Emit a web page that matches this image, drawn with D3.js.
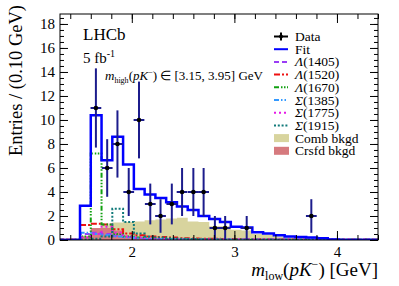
<!DOCTYPE html>
<html>
<head>
<meta charset="utf-8">
<script src="https://cdn.jsdelivr.net/npm/d3@7"></script>
<style>
  body { margin: 0; background: #fff; }
  text { font-family: "Liberation Serif", "Times New Roman", serif; }
</style>
</head>
<body>
<div id="chart"></div>
<script>
// Binning of the histograms (GeV)
const binStart = 1.285,
  binWidth = 0.105;

// Fit and its components, one value per bin
const fitVals = [0, 0, 2.85, 10.4, 6.65, 8.6, 6.3, 4.25, 3.8, 3.5, 3.15, 2.8, 2.5, 2.0, 1.75, 1.5, 1.1, 1.05, 0.65, 0.55, 0.4, 0.3, 0.25, 0.2, 0.15, 0.05, 0, 0, 0, 0];
const combVals = [0, 0, 0.35, 0.9, 1.2, 1.45, 1.5, 1.55, 1.65, 1.7, 1.8, 1.85, 1.55, 1.5, 1.15, 1.15, 0.85, 0.8, 0.5, 0.45, 0.3, 0.2, 0.15, 0.1, 0.05, 0.03, 0.02, 0.01, 0, 0];
const crsfdVals = [0, 0, 0.3, 1.0, 1.0, 0.8, 0.35, 0.2, 0.15, 0.1, 0.1, 0.08, 0.06, 0.05, 0.04, 0.04, 0.03, 0.03, 0.02, 0.02, 0.02, 0.01, 0.01, 0.01, 0.01, 0.01, 0.01, 0.01, 0.01, 0.01];
const l1405Vals = [0.03, 0.03, 0.5, 0.6, 0.5, 0.35, 0.25, 0.15, 0.1, 0.08, 0.06, 0.05, 0.05, 0.04, 0.04, 0.03, 0.03, 0.03, 0.03, 0.03, 0.03, 0.03, 0.03, 0.03, 0.03, 0.03, 0.03, 0.03, 0.03, 0.03];
const l1520Vals = [0.05, 0.05, 1.25, 1.35, 1.3, 0.9, 0.55, 0.4, 0.3, 0.25, 0.2, 0.15, 0.12, 0.1, 0.1, 0.08, 0.08, 0.07, 0.06, 0.06, 0.05, 0.05, 0.05, 0.05, 0.05, 0.05, 0.05, 0.05, 0.05, 0.05];
const l1670Vals = [0.02, 0.02, 0.3, 7.2, 1.3, 0.5, 0.3, 0.2, 0.15, 0.1, 0.08, 0.06, 0.05, 0.04, 0.04, 0.03, 0.03, 0.03, 0.03, 0.03, 0.03, 0.03, 0.03, 0.03, 0.03, 0.03, 0.03, 0.03, 0.03, 0.03];
const s1385Vals = [0.03, 0.03, 0.6, 0.5, 0.4, 0.3, 0.2, 0.15, 0.1, 0.08, 0.06, 0.05, 0.05, 0.04, 0.04, 0.04, 0.04, 0.04, 0.04, 0.04, 0.04, 0.04, 0.04, 0.04, 0.04, 0.04, 0.04, 0.04, 0.04, 0.04];
const s1775Vals = [0.02, 0.02, 0.2, 0.5, 1.1, 0.6, 0.3, 0.2, 0.1, 0.08, 0.06, 0.05, 0.05, 0.05, 0.05, 0.05, 0.05, 0.05, 0.05, 0.05, 0.05, 0.05, 0.05, 0.05, 0.05, 0.05, 0.05, 0.05, 0.05, 0.05];
const s1915Vals = [0.01, 0.01, 0.05, 0.1, 0.3, 2.6, 1.5, 0.55, 0.3, 0.2, 0.15, 0.1, 0.08, 0.06, 0.05, 0.04, 0.03, 0.03, 0.03, 0.02, 0.02, 0.02, 0.02, 0.02, 0.02, 0.02, 0.02, 0.02, 0.02, 0.02];

// Data points
const dataMass = [1.65, 1.76, 1.86, 1.97, 2.07, 2.18, 2.28, 2.39, 2.49, 2.60, 2.70, 2.81, 2.91, 3.12, 3.75];
const dataCounts = [11, 6, 8, 4, 10, 3, 2, 3, 4, 4, 4, 1, 1, 1, 2];
const dataErr = [3.3, 2.4, 2.8, 2.0, 3.2, 1.7, 1.4, 1.7, 2.0, 2.0, 2.0, 1.0, 1.0, 1.0, 1.4];

// Axis ticks
const xTicks = [2, 3, 4];
const yTicks = [0, 2, 4, 6, 8, 10, 12, 14, 16, 18];

const W = 399, H = 286;
const margin = { top: 14, right: 21, bottom: 46, left: 60 },
  width = W - margin.left - margin.right,
  height = H - margin.top - margin.bottom;

const x = d3.scaleLinear().domain([1.3, 4.4]).range([0, width]);
const y = d3.scaleLinear().domain([0, 18.83]).range([height, 0]);

const svg = d3
  .select("#chart")
  .append("svg")
  .attr("width", W)
  .attr("height", H);

const g = svg
  .append("g")
  .attr("transform", `translate(${margin.left},${margin.top})`);

g.append("clipPath")
  .attr("id", "plotclip")
  .append("rect")
  .attr("width", width)
  .attr("height", height);

const plot = g.append("g").attr("clip-path", "url(#plotclip)");

function histPoints(vals) {
  const pts = [];
  vals.forEach((v, i) => {
    const lo = binStart + i * binWidth;
    pts.push([lo, v], [lo + binWidth, v]);
  });
  return pts;
}

const line = d3.line().x((d) => x(d[0])).y((d) => y(d[1]));
const area = d3
  .area()
  .x((d) => x(d[0]))
  .y0(y(0))
  .y1((d) => y(d[1]));

// filled backgrounds
plot.append("path").attr("d", area(histPoints(combVals))).attr("fill", "#d8d49e");
plot.append("path").attr("d", area(histPoints(crsfdVals))).attr("fill", "#d67a7e");

const components = [
  { name: "Λ", mass: "(1405)", vals: l1405Vals, color: "#9a3cf5", dash: "5,3" },
  { name: "Λ", mass: "(1520)", vals: l1520Vals, color: "#ee1111", dash: "6,2,2,2" },
  { name: "Λ", mass: "(1670)", vals: l1670Vals, color: "#10a010", dash: "5,2,1.5,1.5,1.5,1.5,1.5,2" },
  { name: "Σ", mass: "(1385)", vals: s1385Vals, color: "#3399ff", dash: "5,2,1.5,2,1.5,2" },
  { name: "Σ", mass: "(1775)", vals: s1775Vals, color: "#e619e6", dash: "2,3" },
  { name: "Σ", mass: "(1915)", vals: s1915Vals, color: "#117a7a", dash: "2,1.8" },
];

components.forEach((c) => {
  plot
    .append("path")
    .attr("d", line(histPoints(c.vals)))
    .attr("fill", "none")
    .attr("stroke", c.color)
    .attr("stroke-width", 2)
    .attr("stroke-dasharray", c.dash);
});

// total fit
plot
  .append("path")
  .attr("d", line(histPoints(fitVals)))
  .attr("fill", "none")
  .attr("stroke", "#0000ff")
  .attr("stroke-width", 2.5);

// data with error bars
const pts = plot
  .selectAll(".pt")
  .data(dataMass.map((m, i) => ({ m: m, n: dataCounts[i], e: dataErr[i] })))
  .enter()
  .append("g");

pts
  .append("line")
  .attr("x1", (d) => x(d.m))
  .attr("x2", (d) => x(d.m))
  .attr("y1", (d) => y(Math.max(0, d.n - d.e)))
  .attr("y2", (d) => y(d.n + d.e))
  .attr("stroke", "#1c1c8c")
  .attr("stroke-width", 2);

pts
  .append("line")
  .attr("x1", (d) => x(d.m - binWidth / 2))
  .attr("x2", (d) => x(d.m + binWidth / 2))
  .attr("y1", (d) => y(d.n))
  .attr("y2", (d) => y(d.n))
  .attr("stroke", "#1c1c8c")
  .attr("stroke-width", 2);

pts
  .append("circle")
  .attr("cx", (d) => x(d.m))
  .attr("cy", (d) => y(d.n))
  .attr("r", 2.3)
  .attr("fill", "#000");

// axes, ROOT style ticks pointing inwards
const xMinor = d3.range(1.4, 4.41, 0.2);
const yMinor = d3.range(0, 18.8, 0.5);

function styleAxis(sel) {
  sel.select(".domain").remove();
  sel.selectAll("line").attr("stroke", "#000");
  sel
    .selectAll("text")
    .attr("font-size", "15px")
    .attr("fill", "#000")
    .style("font-family", '"Liberation Serif", serif');
}

g.append("g")
  .attr("transform", `translate(0,${height})`)
  .call(d3.axisBottom(x).tickValues(xTicks).tickSize(-9).tickPadding(6).tickFormat(d3.format("d")))
  .call(styleAxis);
g.append("g")
  .attr("transform", `translate(0,${height})`)
  .call(d3.axisBottom(x).tickValues(xMinor).tickSize(-5).tickFormat(""))
  .call(styleAxis);
g.append("g")
  .call(d3.axisTop(x).tickValues(xTicks).tickSize(-9).tickFormat(""))
  .call(styleAxis);
g.append("g")
  .call(d3.axisTop(x).tickValues(xMinor).tickSize(-5).tickFormat(""))
  .call(styleAxis);

g.append("g")
  .call(d3.axisLeft(y).tickValues(yTicks).tickSize(-8).tickPadding(5).tickFormat(d3.format("d")))
  .call(styleAxis);
g.append("g")
  .call(d3.axisLeft(y).tickValues(yMinor).tickSize(-4).tickFormat(""))
  .call(styleAxis);
g.append("g")
  .attr("transform", `translate(${width},0)`)
  .call(d3.axisRight(y).tickValues(yTicks).tickSize(-8).tickFormat(""))
  .call(styleAxis);
g.append("g")
  .attr("transform", `translate(${width},0)`)
  .call(d3.axisRight(y).tickValues(yMinor).tickSize(-4).tickFormat(""))
  .call(styleAxis);

g.append("rect")
  .attr("width", width)
  .attr("height", height)
  .attr("fill", "none")
  .attr("stroke", "#000")
  .attr("stroke-width", 1);

// axis titles
svg
  .append("text")
  .attr("transform", "translate(22,5) rotate(-90)")
  .attr("text-anchor", "end")
  .attr("font-size", "18.5px")
  .text("Entries / (0.10 GeV)");

const xt = svg
  .append("text")
  .attr("x", margin.left + width)
  .attr("y", 276)
  .attr("text-anchor", "end")
  .attr("font-size", "19px");
xt.append("tspan").attr("font-style", "italic").text("m");
xt.append("tspan").attr("font-size", "12px").attr("dy", 4).text("low");
xt.append("tspan").attr("dy", -4).text("(");
xt.append("tspan").attr("font-style", "italic").text("pK");
xt.append("tspan").attr("font-size", "12px").attr("dy", -8).text("−");
xt.append("tspan").attr("dy", 8).text(") [GeV]");

// labels inside the frame
svg
  .append("text")
  .attr("x", 83)
  .attr("y", 40)
  .attr("font-size", "17px")
  .text("LHCb");

const lumi = svg.append("text").attr("x", 83).attr("y", 63).attr("font-size", "15px");
lumi.append("tspan").text("5 fb");
lumi.append("tspan").attr("font-size", "10px").attr("dy", -6).text("-1");

const cut = svg.append("text").attr("x", 105).attr("y", 80).attr("font-size", "13px");
cut.append("tspan").attr("font-style", "italic").text("m");
cut.append("tspan").attr("font-size", "8px").attr("dy", 2.5).text("high");
cut.append("tspan").attr("dy", -2.5).text("(");
cut.append("tspan").attr("font-style", "italic").text("pK");
cut.append("tspan").attr("font-size", "8px").attr("dy", -5).text("−");
cut.append("tspan").attr("dy", 5).text(") ∈ [3.15, 3.95] GeV");

// legend
const legend = svg.append("g").attr("transform", "translate(274,36.5)");
const rowH = 12.7;

function legendText(i) {
  return legend
    .append("text")
    .attr("x", 21)
    .attr("y", i * rowH + 4.5)
    .attr("font-size", "13.5px");
}

// Data
legend.append("line").attr("x1", 0).attr("x2", 14).attr("y1", 0).attr("y2", 0)
  .attr("stroke", "#000").attr("stroke-width", 2);
legend.append("line").attr("x1", 7).attr("x2", 7).attr("y1", -4).attr("y2", 4)
  .attr("stroke", "#000").attr("stroke-width", 2);
legend.append("circle").attr("cx", 7).attr("cy", 0).attr("r", 2).attr("fill", "#000");
legendText(0).text("Data");

// Fit
legend.append("line").attr("x1", 0).attr("x2", 14).attr("y1", rowH).attr("y2", rowH)
  .attr("stroke", "#0000ff").attr("stroke-width", 2);
legendText(1).text("Fit");

components.forEach((c, i) => {
  const r = i + 2;
  legend.append("line").attr("x1", 0).attr("x2", 14)
    .attr("y1", r * rowH).attr("y2", r * rowH)
    .attr("stroke", c.color).attr("stroke-width", 2)
    .attr("stroke-dasharray", c.dash);
  const t = legendText(r);
  t.append("tspan").attr("font-style", "italic").text(c.name);
  t.append("tspan").text(c.mass);
});

legend.append("rect").attr("x", 0).attr("y", 8 * rowH - 4).attr("width", 15).attr("height", 8)
  .attr("fill", "#d8d49e");
legendText(8).text("Comb bkgd");
legend.append("rect").attr("x", 0).attr("y", 9 * rowH - 4).attr("width", 15).attr("height", 8)
  .attr("fill", "#d67a7e");
legendText(9).text("Crsfd bkgd");
</script>
</body>
</html>
